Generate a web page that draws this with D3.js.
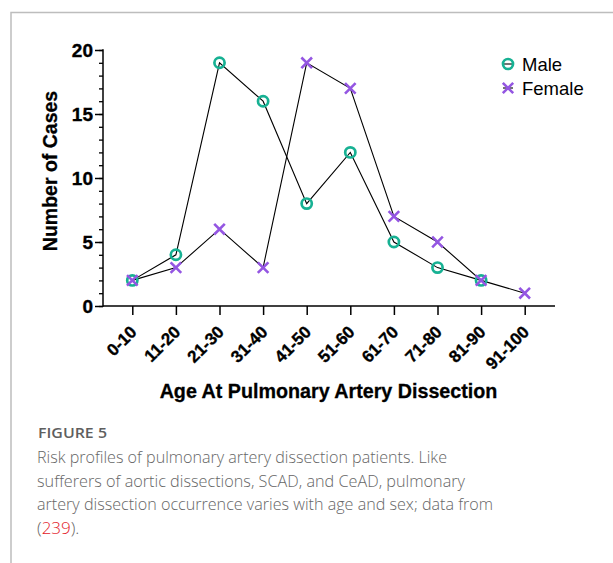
<!DOCTYPE html>
<html><head><meta charset="utf-8">
<script src="https://cdn.jsdelivr.net/npm/d3@7"></script>
<style>
body{margin:0;background:#fff;}
svg{display:block;}
</style></head>
<body>
<svg id="chart" width="613" height="563"></svg>
<script>
const categories = ["0-10","11-20","21-30","31-40","41-50","51-60","61-70","71-80","81-90","91-100"];
const maleValues = [2,4,19,16,8,12,5,3,2,null];
const femaleValues = [2,3,6,3,19,17,7,5,2,1];
const yTicks = [0,5,10,15,20];
const seriesNames = ["Male","Female"];
const captionTitle = "FIGURE 5";
const captionLines = [
  "Risk profiles of pulmonary artery dissection patients. Like",
  "sufferers of aortic dissections, SCAD, and CeAD, pulmonary",
  "artery dissection occurrence varies with age and sex; data from"
];
const captionWidths = [410, 428, 456];

const teal = "#17b193", purple = "#9456e2";
const svg = d3.select("#chart");
const font = "'Liberation Sans', Arial, sans-serif";

// frame
svg.append("path").attr("d","M11,563 V12.5 H613").attr("fill","none").attr("stroke","#bdbdbd").attr("stroke-width",1.5);

const x = d3.scalePoint().domain(categories).range([132.3, 524.7]);
const y = d3.scaleLinear().domain([0,20]).range([306, 50]);

// y axis minor ticks
const gy = svg.append("g").attr("transform","translate(103,0)");
gy.call(d3.axisLeft(y).tickValues(d3.range(0,21,1)).tickSize(4).tickFormat(""));
gy.selectAll(".tick line").attr("stroke","#000").attr("stroke-width",1.3);
gy.selectAll(".domain").remove();
// y axis major ticks
const gy2 = svg.append("g").attr("transform","translate(103,0)");
gy2.call(d3.axisLeft(y).tickValues(yTicks).tickSize(8).tickPadding(2));
gy2.select(".domain").remove();
gy2.selectAll(".tick line").attr("stroke","#000").attr("stroke-width",1.5);
gy2.selectAll(".tick text").style("font-family",font).style("font-weight","bold").style("font-size","19px")
  .attr("fill","#000").attr("stroke","#000").attr("stroke-width",0.35).attr("dy","0.35em");
svg.append("line").attr("x1",103).attr("x2",103).attr("y1",y(20)-0.75).attr("y2",y(0)+0.75).attr("stroke","#000").attr("stroke-width",1.5);

// x axis
const gx = svg.append("g").attr("transform","translate(0,306)");
gx.call(d3.axisBottom(x).tickSize(9).tickSizeOuter(0));
gx.select(".domain").remove();
gx.selectAll(".tick line").attr("stroke","#000").attr("stroke-width",1.5);
gx.selectAll(".tick text")
  .style("font-family",font).style("font-weight","bold").style("font-size","17px")
  .attr("fill","#000").attr("stroke","#000").attr("stroke-width",0.35)
  .attr("text-anchor","end").attr("dy",null).attr("y",0)
  .attr("transform","translate(5,27) rotate(-45)");
svg.append("line").attr("x1",103).attr("x2",555).attr("y1",306).attr("y2",306).attr("stroke","#000").attr("stroke-width",1.5);

// titles
svg.append("text").attr("x",328.5).attr("y",398).attr("text-anchor","middle")
  .attr("stroke","#000").attr("stroke-width",0.3)
  .style("font-family",font).style("font-weight","bold").style("font-size","19.7px").text("Age At Pulmonary Artery Dissection");
svg.append("text").attr("transform","translate(57,171) rotate(-90)").attr("text-anchor","middle")
  .attr("stroke","#000").attr("stroke-width",0.3)
  .style("font-family",font).style("font-weight","bold").style("font-size","19.5px").text("Number of Cases");

// lines
const line = d3.line().defined(d=>d.v!=null).x(d=>x(d.c)).y(d=>y(d.v));
const maleData = categories.map((c,i)=>({c, v: maleValues[i]}));
const femaleData = categories.map((c,i)=>({c, v: femaleValues[i]}));
svg.append("path").datum(maleData).attr("d",line).attr("fill","none").attr("stroke","#000").attr("stroke-width",1.1);
svg.append("path").datum(femaleData).attr("d",line).attr("fill","none").attr("stroke","#000").attr("stroke-width",1.1);

function cross(g, cx, cy, s){
  g.append("path").attr("d",`M${cx-s},${cy-s}L${cx+s},${cy+s}M${cx-s},${cy+s}L${cx+s},${cy-s}`)
   .attr("stroke",purple).attr("stroke-width",2.6).attr("fill","none");
}
const mk = svg.append("g");
maleData.filter(d=>d.v!=null).forEach(d=>{
  mk.append("circle").attr("cx",x(d.c)).attr("cy",y(d.v)).attr("r",5.1)
    .attr("fill","none").attr("stroke",teal).attr("stroke-width",2.7);
});
femaleData.forEach(d=>cross(mk, x(d.c), y(d.v), 5.3));

// legend
const lg = svg.append("g");
lg.append("line").attr("x1",503).attr("x2",513).attr("y1",64).attr("y2",64).attr("stroke","#000").attr("stroke-width",1.1);
lg.append("circle").attr("cx",508).attr("cy",64).attr("r",5).attr("fill","none").attr("stroke",teal).attr("stroke-width",2.7);
lg.append("line").attr("x1",503).attr("x2",513).attr("y1",88).attr("y2",88).attr("stroke","#000").attr("stroke-width",1.1);
cross(lg,508,88,5.2);
lg.append("text").attr("x",522).attr("y",71).style("font-family",font).style("font-size","18.5px").text(seriesNames[0]);
lg.append("text").attr("x",522).attr("y",95).style("font-family",font).style("font-size","18.5px").text(seriesNames[1]);

// caption
const cf = "'Open Sans', sans-serif";
svg.append("text").attr("x",38).attr("y",437.5).style("font-family",cf).style("font-weight",600).style("font-size","14px")
  .attr("textLength",69).attr("lengthAdjust","spacingAndGlyphs").attr("fill","#5f5f5f").text(captionTitle);
captionLines.forEach((t,i)=>{
  svg.append("text").attr("x",37).attr("y",463+i*23.5).style("font-family",cf).style("font-weight",300).style("font-size","17px")
    .attr("textLength",captionWidths[i]).attr("lengthAdjust","spacingAndGlyphs").attr("fill","#666").text(t);
});
const last = svg.append("text").attr("x",37).attr("y",463+3*23.5).style("font-family",cf).style("font-weight",300).style("font-size","17px").attr("fill","#666");
last.append("tspan").text("(");
last.append("tspan").attr("fill","#e3202a").text("239");
last.append("tspan").text(").");
</script>
</body></html>
